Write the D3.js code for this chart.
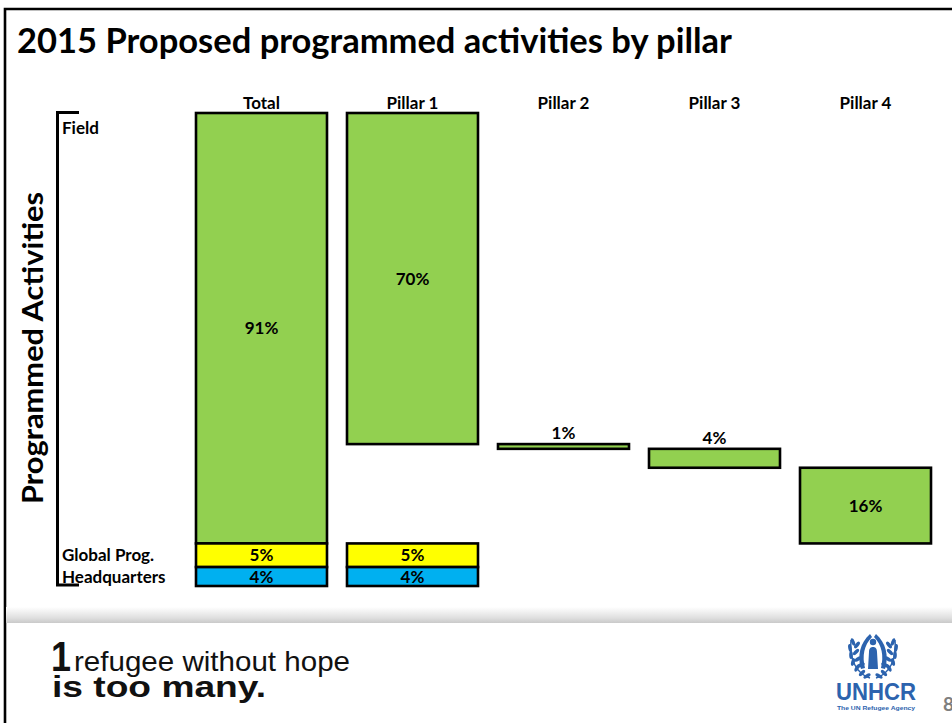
<!DOCTYPE html>
<html>
<head>
<meta charset="utf-8">
<script src="https://cdn.jsdelivr.net/npm/d3@7"></script>
<style>
  html, body { margin: 0; padding: 0; background: #ffffff; }
  svg { display: block; font-family: Lato, "Open Sans", "DejaVu Sans", sans-serif; }
</style>
</head>
<body>
<svg id="slide" width="952" height="723"></svg>
<script>
// ---- data ----
const title = "2015 Proposed programmed activities by pillar";
const axisTitle = "Programmed Activities";
const columns = ["Total", "Pillar 1", "Pillar 2", "Pillar 3", "Pillar 4"];
const rowLabels = ["Field", "Global Prog.", "Headquarters"];
// share of the 2015 budget (%), field part of each column
const fieldShares = [91, 70, 1, 4, 16];
// global programmes and headquarters only exist for Total and Pillar 1
const globalProgShares = [5, 5, null, null, null];
const hqShares = [4, 4, null, null, null];

const colors = { field: "#92D050", global: "#FFFF00", hq: "#00B0F0" };
const helv = "'Liberation Sans', Arial, Helvetica, sans-serif";

const svg = d3.select("#slide");

// ---- slide frame ----
svg.append("path")
  .attr("d", "M5,723 V9 H952")
  .attr("fill", "none").attr("stroke", "#000").attr("stroke-width", 2.6);

svg.append("text")
  .attr("x", 17).attr("y", 53)
  .attr("font-size", 34).attr("font-weight", 700)
  .attr("textLength", 715).attr("lengthAdjust", "spacingAndGlyphs")
  .text(title);

// ---- scales ----
const x = d3.scaleBand().domain(columns).range([196, 931]).paddingInner(0.1325).paddingOuter(0);
const y = d3.scaleLinear().domain([0, 100]).range([113, 586]);

// build the segments: Total is stacked from 0, pillars run as a waterfall across the field share
const segments = [];
let running = 0;
columns.forEach((c, i) => {
  let f0, f1;
  if (i === 0) { f0 = 0; f1 = fieldShares[0]; }
  else { f0 = running; f1 = running + fieldShares[i]; running = f1; }
  segments.push({ col: c, kind: "field", v0: f0, v1: f1, value: fieldShares[i] });
  let base = fieldShares[0];
  if (globalProgShares[i] != null) {
    segments.push({ col: c, kind: "global", v0: base, v1: base + globalProgShares[i], value: globalProgShares[i] });
    base += globalProgShares[i];
  }
  if (hqShares[i] != null) {
    segments.push({ col: c, kind: "hq", v0: base, v1: base + hqShares[i], value: hqShares[i] });
  }
});

const chart = svg.append("g");

chart.selectAll("rect.seg").data(segments).join("rect")
  .attr("class", "seg")
  .attr("x", d => x(d.col))
  .attr("y", d => y(d.v0))
  .attr("width", x.bandwidth())
  .attr("height", d => y(d.v1) - y(d.v0))
  .attr("fill", d => colors[d.kind])
  .attr("stroke", "#000").attr("stroke-width", 2.6);

// value labels: small field shares sit above their bar
chart.selectAll("text.val").data(segments).join("text")
  .attr("class", "val")
  .attr("x", d => x(d.col) + x.bandwidth() / 2)
  .attr("y", d => (d.kind === "field" && d.value < 5) ? y(d.v0) - 5 : (y(d.v0) + y(d.v1)) / 2 + 6)
  .attr("text-anchor", "middle")
  .attr("font-size", 17).attr("font-weight", 700)
  .text(d => d.value + "%");

// column headers
chart.selectAll("text.head").data(columns).join("text")
  .attr("class", "head")
  .attr("x", d => x(d) + x.bandwidth() / 2)
  .attr("y", 109)
  .attr("text-anchor", "middle")
  .attr("font-size", 17).attr("font-weight", 700)
  .text(d => d);

// ---- bracket and row labels ----
svg.append("path")
  .attr("d", `M79,${y(0) - 0.5} H57.5 V${y(100) - 1} H79`)
  .attr("fill", "none").attr("stroke", "#000").attr("stroke-width", 3);

const rowY = [
  y(0) + 21,
  (y(fieldShares[0]) + y(fieldShares[0] + globalProgShares[0])) / 2 + 6,
  (y(fieldShares[0] + globalProgShares[0]) + y(100)) / 2 + 6
];
svg.selectAll("text.row").data(rowLabels).join("text")
  .attr("class", "row")
  .attr("x", 62).attr("y", (d, i) => rowY[i])
  .attr("font-size", 17).attr("font-weight", 700)
  .text(d => d);

svg.append("text")
  .attr("transform", "translate(43,348) rotate(-90)")
  .attr("text-anchor", "middle")
  .attr("font-size", 28).attr("font-weight", 700)
  .attr("textLength", 312).attr("lengthAdjust", "spacingAndGlyphs")
  .text(axisTitle);

// ---- footer ----
const defs = svg.append("defs");
const grad = defs.append("linearGradient").attr("id", "band").attr("x1", 0).attr("y1", 0).attr("x2", 0).attr("y2", 1);
grad.append("stop").attr("offset", "0%").attr("stop-color", "#ffffff");
grad.append("stop").attr("offset", "70%").attr("stop-color", "#dedede");
grad.append("stop").attr("offset", "100%").attr("stop-color", "#c9c9c9");
svg.append("rect").attr("x", 6).attr("y", 607).attr("width", 946).attr("height", 16).attr("fill", "url(#band)");

const slogan = svg.append("g").style("font-family", helv).attr("fill", "#111");
slogan.append("text").attr("x", 51).attr("y", 671)
  .attr("font-size", 42).attr("font-weight", 700)
  .attr("textLength", 20).attr("lengthAdjust", "spacingAndGlyphs")
  .text("1");
slogan.append("text").attr("x", 74).attr("y", 671)
  .attr("font-size", 28)
  .attr("textLength", 276).attr("lengthAdjust", "spacingAndGlyphs")
  .text("refugee without hope");
slogan.append("text").attr("x", 52).attr("y", 697)
  .attr("font-size", 30).attr("font-weight", 700)
  .attr("textLength", 214).attr("lengthAdjust", "spacingAndGlyphs")
  .text("is too many.");

// UNHCR emblem
const blue = "#2C63AE";
const logo = svg.append("g").attr("fill", blue);
// laurel branches
[-1, 1].forEach(side => {
  const g = logo.append("g").attr("transform", `translate(873,0) scale(${side},1)`);
  g.append("path")
    .attr("d", "M-3,678 C-16,674 -24,660 -22,640")
    .attr("fill", "none").attr("stroke", blue).attr("stroke-width", 1.5);
  const leaves = [[-20, 642, -20], [-23, 648, -10], [-22, 655, 0], [-20, 662, 15], [-16, 668, 30], [-11, 673, 45], [-6, 676, 60],
                  [-16, 645, 40], [-17, 652, 45], [-15, 659, 55], [-12, 665, 65]];
  g.selectAll("ellipse").data(leaves).join("ellipse")
    .attr("cx", 0).attr("cy", 0).attr("rx", 1.8).attr("ry", 4)
    .attr("transform", d => `translate(${d[0]},${d[1]}) rotate(${d[2]})`);
  // hand forming half the roof
  g.append("path")
    .attr("d", "M-12,669 C-16,656 -13,643 -3,634 L-1,637 C-9,645 -11,656 -8,668 Z");
});
// sheltered figure
logo.append("circle").attr("cx", 873).attr("cy", 642).attr("r", 3.2);
logo.append("path").attr("d", "M868,669 L869,652 C869,648 871,647 873,647 C875,647 877,648 877,652 L878,669 Z");

svg.append("text").attr("x", 876).attr("y", 700)
  .attr("text-anchor", "middle")
  .style("font-family", helv).attr("font-weight", 700)
  .attr("font-size", 23).attr("fill", blue)
  .attr("textLength", 80).attr("lengthAdjust", "spacingAndGlyphs")
  .text("UNHCR");
svg.append("text").attr("x", 876).attr("y", 710)
  .attr("text-anchor", "middle")
  .style("font-family", helv).attr("font-weight", 700)
  .attr("font-size", 6).attr("fill", blue)
  .attr("textLength", 78).attr("lengthAdjust", "spacingAndGlyphs")
  .text("The UN Refugee Agency");

svg.append("text").attr("x", 943).attr("y", 711)
  .attr("font-size", 19).attr("font-weight", 700).attr("fill", "#7f7f7f")
  .text("8");
</script>
</body>
</html>
